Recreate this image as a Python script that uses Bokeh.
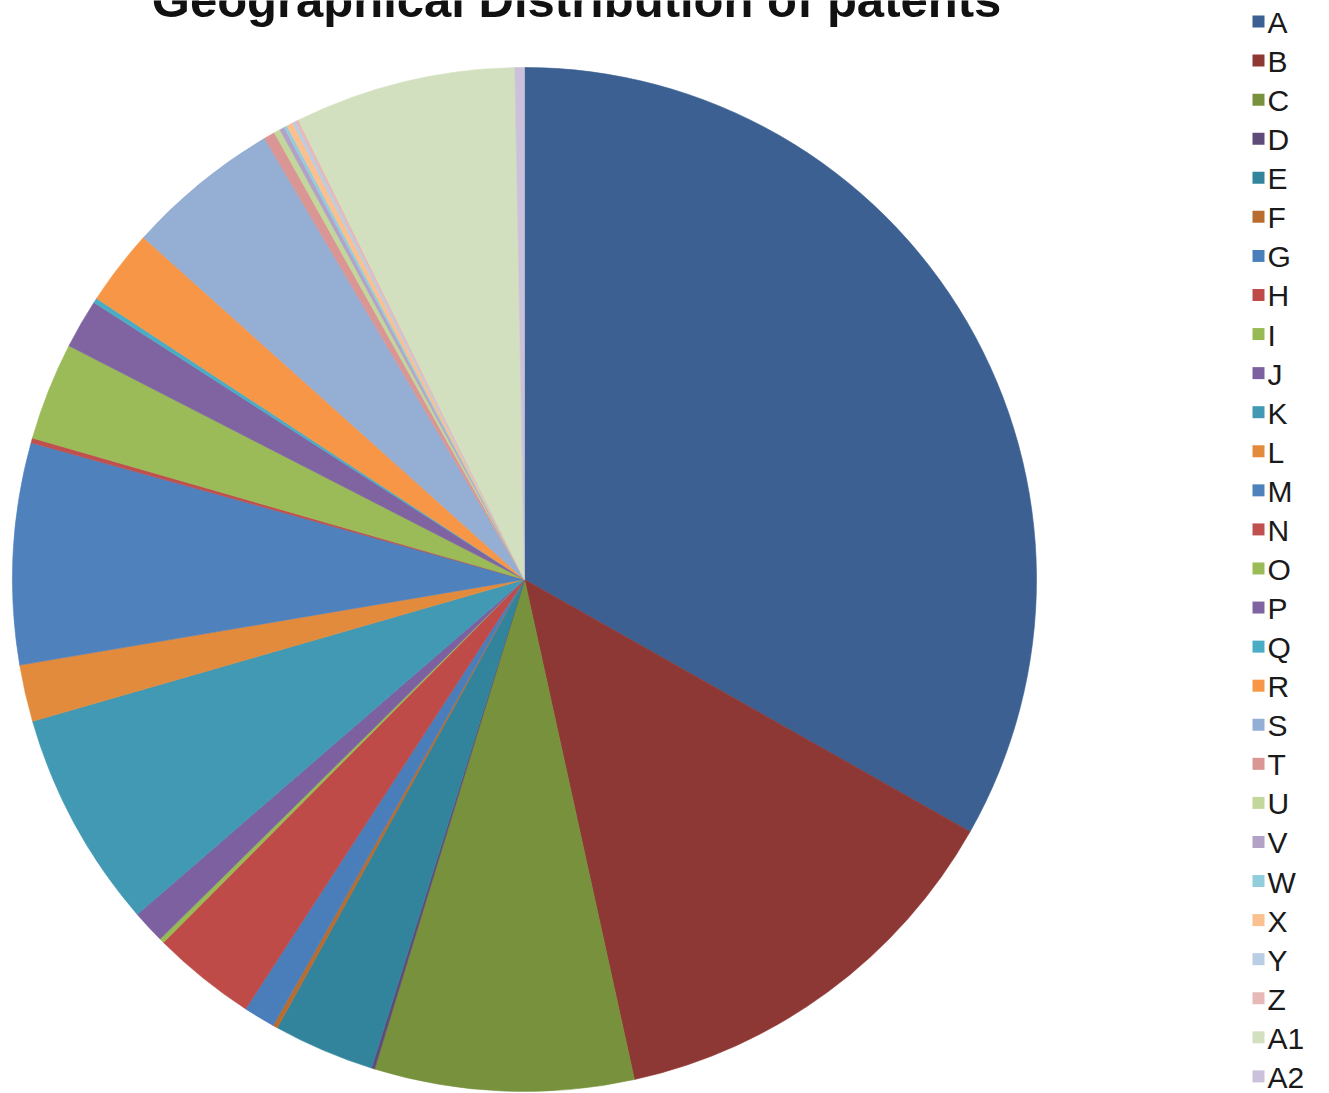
import math
from bokeh.plotting import figure
from bokeh.models import Range1d, ColumnDataSource
from bokeh.core.properties import value
from bokeh.embed import file_html
from bokeh.resources import INLINE

title = "Geographical Distribution of patents"
categories = ["A", "B", "C", "D", "E", "F", "G", "H", "I", "J", "K", "L", "M", "N",
              "O", "P", "Q", "R", "S", "T", "U", "V", "W", "X", "Y", "Z", "A1", "A2"]
shares = [33.3, 13.4, 8.2, 0.1, 3.2, 0.15, 1.0, 3.3, 0.15, 1.05, 6.9, 1.8, 7.0, 0.15,
          3.1, 1.56, 0.15, 2.4, 4.9, 0.35, 0.2, 0.15, 0.1, 0.2, 0.1, 0.1, 7.0, 0.3]
colors = ["#3B6091", "#8E3835", "#77913D", "#5F4B7A", "#31849B", "#B86C30",
          "#4A7EBB", "#BE4B48", "#98B954", "#7D60A0", "#4299B4", "#E38B3D",
          "#4F81BD", "#C0504D", "#9BBB59", "#8064A2", "#4BACC6", "#F79646",
          "#95AED4", "#D99694", "#C3D69B", "#B2A2C7", "#92CDDC", "#FAC090",
          "#B9CDE5", "#E6B9B8", "#D3E0BF", "#CCC1DA"]

W, H = 1329, 1093
p = figure(width=W, height=H, output_backend="svg", toolbar_location=None,
           x_range=Range1d(0, W), y_range=Range1d(0, H), min_border=0,
           outline_line_color=None)
p.axis.visible = False
p.grid.visible = False

total = sum(shares)
starts, ends = [], []
cum = 0.0
for s in shares:
    starts.append(math.pi / 2 - 2 * math.pi * cum / total)
    cum += s
    ends.append(math.pi / 2 - 2 * math.pi * cum / total)

src = ColumnDataSource(dict(cat=categories, start=starts, end=ends, color=colors))
cx, cy, r = 524, H - 579, 512
p.wedge(x=cx, y=cy, radius=r, start_angle="start", end_angle="end",
        direction="clock", fill_color="color", line_color="color",
        line_width=0.6, source=src)

# title (top clipped as in the original)
p.text(x=[576], y=[H + 1], text=[title], text_font=value("Liberation Sans"),
       text_font_style="bold", text_font_size="49px", text_align="center",
       text_baseline="alphabetic", text_color="#111111")

# legend
n = len(categories)
ly = [H - 21 - i * 39.07 for i in range(n)]
lsrc = ColumnDataSource(dict(y=ly, ty=[v - 1 for v in ly], cat=categories, color=colors))
p.rect(x=1258, y="y", width=12, height=12, fill_color="color",
       line_color=None, source=lsrc)
p.text(x=1267, y="ty", text="cat", text_font=value("Liberation Sans"),
       text_font_size="30px", text_baseline="alphabetic", text_color="#1a1a1a",
       source=lsrc)

open("out.html", "w").write(file_html(p, INLINE))
